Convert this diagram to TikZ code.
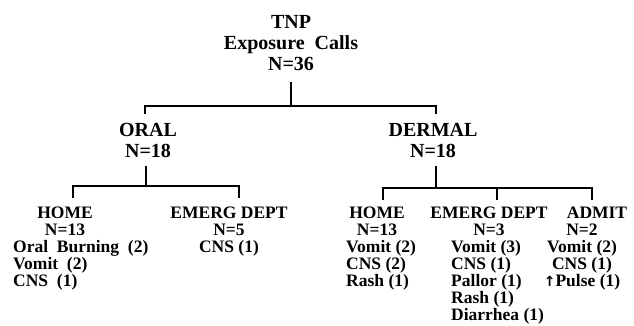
\documentclass[tikz,border=0pt]{standalone}
\usepackage{fontspec}
\setmainfont{Liberation Serif}
\newfontfamily\arrowfont{DejaVu Sans}
\usetikzlibrary{positioning}

\begin{document}
\begin{tikzpicture}[x=1pt, y=-1pt,
  lvl/.style={inner sep=0pt, anchor=north, align=center,
              font=\bfseries\fontsize{20}{20.5}\selectfont},
  leaf/.style={inner sep=0pt, anchor=north, align=center,
               font=\bfseries\fontsize{17.5}{17}\selectfont},
  items/.style={leaf, anchor=north west, align=left},
  wire/.style={draw, line width=1.1pt},
]
  \useasboundingbox (0,0) rectangle (634,325);

  % TITLE
  \node[lvl, font=\bfseries\fontsize{20}{21}\selectfont] (tnp) at (291,14.8)
    {TNP\\Exposure\ \ Calls\\N=36};

  % ROUTES
  \node[lvl] (oral)   at (148,123.5) {ORAL\\N=18};
  \node[lvl] (dermal) at (433,123.5) {DERMAL\\N=18};

  % ORAL leaves
  \node[leaf] (homeO) at (65,206.4) {HOME\\N=13};
  \node[items] (homeOitems) at (13,240)
    {Oral\ \ Burning\ \ (2)\\Vomit\ \ (2)\\CNS\ \ (1)};
  \node[leaf] (emergO) at (229,206.4) {EMERG DEPT\\N=5\\CNS (1)};

  % DERMAL leaves
  \node[leaf] (homeD) at (377,206.4) {HOME\\N=13};
  \node[items] (homeDitems) at (346,240) {Vomit (2)\\CNS (2)\\Rash (1)};
  \node[leaf] (emergD) at (489,206.4) {EMERG DEPT\\N=3};
  \node[items] (emergDitems) at (451,240)
    {Vomit (3)\\CNS (1)\\Pallor (1)\\Rash (1)\\Diarrhea (1)};
  \node[leaf] (admit) at (597,206.4) {ADMIT};
  \node[leaf] (admitItems) at (582,223.4)
    {N=2\\Vomit (2)\\CNS (1)\\{\arrowfont\bfseries\fontsize{14}{14}\selectfont ↑}Pulse (1)};

  % junctions and drop ends
  \coordinate (busT) at (291,106);
  \coordinate (dOral) at (145,114);
  \coordinate (dDermal) at (436,114);
  \coordinate (busO) at (146,186);
  \coordinate (dHomeO) at (73,198);
  \coordinate (dEmergO) at (239,198);
  \coordinate (busD) at (436,188);
  \coordinate (dHomeD) at (383,200);
  \coordinate (dEmergD) at (497,200);
  \coordinate (dAdmit) at (592,200);

  % tree lines
  \draw[wire] (busT |- tnp.south) ++(0,12) -- (busT);
  \draw[wire] (dOral) |- (busT) -| (dDermal);
  \draw[wire] (busO |- oral.south) ++(0,8) -- (busO);
  \draw[wire] (dHomeO) |- (busO) -| (dEmergO);
  \draw[wire] (busD |- dermal.south) ++(0,8) -- (busD);
  \draw[wire] (dHomeD) |- (busD) -| (dAdmit);
  \draw[wire] (dEmergD) -- (dEmergD |- busD);
\end{tikzpicture}
\end{document}
